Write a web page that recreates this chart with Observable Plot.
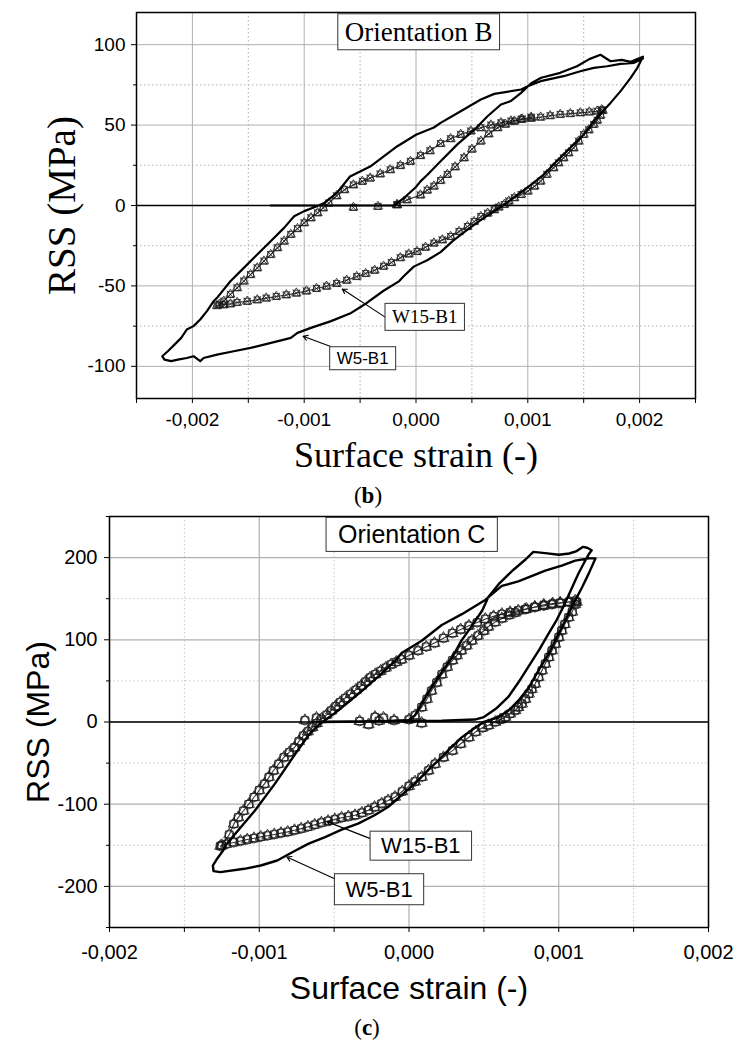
<!DOCTYPE html>
<html>
<head>
<meta charset="utf-8">
<script src="https://cdn.jsdelivr.net/npm/d3@7"></script>
<script src="https://cdn.jsdelivr.net/npm/@observablehq/plot@0.6"></script>
<style>
  body { margin: 0; background: #ffffff; }
  #root { position: relative; width: 736px; height: 1044px; overflow: hidden; background: #ffffff; }
  #top { position: absolute; left: 0; top: 0; }
  #bot { position: absolute; left: 0; top: 490px; }
  .cap { position: absolute; width: 736px; text-align: center; font-family: "Liberation Serif", "Times New Roman", serif; font-size: 23px; line-height: 24px; color: #000; }
</style>
</head>
<body>
<div id="root">
  <div id="top"></div>
  <div class="cap" style="left:0;top:484px;">(<b>b</b>)</div>
  <div id="bot"></div>
  <div class="cap" style="left:-1px;top:1016px;">(<b>c</b>)</div>
</div>
<script>
// ---------- DATA (strain in units of 1e-3, RSS in MPa) ----------
// Panel (b) Orientation B
const b_w5 = [
  [-1.30,0],[-0.87,0],[-0.20,0],[-0.11,4.5],[0.00,11.5],[0.04,15],[0.10,19],[0.22,27.5],[0.37,38],[0.52,47],[0.64,55.5],[0.76,62.8],[0.85,65],[0.94,70],[1.03,76],[1.12,79.4],[1.29,82.5],[1.44,86.6],[1.55,91],[1.65,93.7],[1.74,89.7],[1.84,90.5],[1.92,89.3],[2.03,92.5],
  [1.98,85.6],[1.92,79.4],[1.83,71.1],[1.74,63.8],[1.67,58.6],[1.59,52.4],[1.50,44.1],[1.41,37.9],[1.32,31.7],[1.23,25.5],[1.145,19.3],[1.03,13.0],[0.91,6.8],[0.79,0.6],[0.70,-3.6],[0.60,-8],[0.46,-15],[0.33,-22],[0.22,-29],[0.10,-34],[-0.02,-38],[-0.11,-44],[-0.15,-47],[-0.29,-53],[-0.44,-60.6],[-0.58,-66.8],[-0.76,-71.9],[-0.94,-76.1],[-1.06,-79.2],[-1.12,-82.3],[-1.18,-83.4],[-1.36,-86.5],[-1.48,-88.5],[-1.63,-90.6],[-1.78,-92.7],[-1.90,-94.8],[-1.93,-96.8],[-1.99,-93.7],[-2.05,-94.8],[-2.13,-95.8],[-2.19,-96.8],[-2.25,-95.8],[-2.27,-93.7],
  [-2.22,-90.6],[-2.16,-86.5],[-2.10,-82.3],[-2.05,-77.1],[-1.99,-75.0],[-1.93,-70.9],[-1.87,-65.7],[-1.81,-59.5],[-1.78,-57.4],[-1.66,-47.1],[-1.54,-38.8],[-1.42,-30.5],[-1.30,-22.2],[-1.18,-13.9],[-1.09,-6.7],[-1.00,-3.5],[-0.91,-1.1],[-0.82,1.6],[-0.71,7.7],[-0.59,18.0],[-0.41,24.2],[-0.17,36.7],[0.00,44],[0.16,48.5],[0.22,51.4],[0.40,58.6],[0.58,65.9],[0.70,69.4],[0.94,72.1],[1.00,74.2],[1.115,77.3],[1.32,80.4],[1.47,83.5],[1.59,85.6],[1.71,86.6],[1.83,88.1],[1.95,88.7],[2.03,91.4]
];
const b_w15_initial = [[-0.17,0.4],[-0.08,3.5],[0.04,6.5],[0.10,9.5],[0.16,12],[0.22,15.5],[0.28,19.3],[0.35,24],[0.43,29.6],[0.50,35],[0.58,40],[0.65,44.5],[0.73,48.3],[0.80,50.5],[0.88,52.4],[0.95,53.8],[1.03,54.9]];
const b_w15_upper = [[-1.76,-61.5],[-1.72,-59.5],[-1.66,-55.3],[-1.60,-51.2],[-1.54,-47],[-1.48,-43],[-1.42,-38.8],[-1.36,-34.6],[-1.30,-30.5],[-1.24,-26.3],[-1.18,-22.2],[-1.12,-18],[-1.06,-14.4],[-1.00,-10.8],[-0.94,-7.7],[-0.88,-4.6],[-0.83,-1.5],[-0.78,1.5],[-0.71,6],[-0.64,9.8],[-0.56,12.8],[-0.48,15],[-0.41,17],[-0.32,19.6],[-0.23,22.2],[-0.14,24.8],[-0.05,27.4],[0.04,31],[0.125,34],[0.22,38.5],[0.31,41.5],[0.40,44.2],[0.49,46.3],[0.58,48.3],[0.67,50],[0.76,51.4],[0.85,52.5],[0.94,53.5],[1.03,54.2],[1.115,54.9],[1.20,55.8],[1.29,56.6],[1.38,57.1],[1.47,57.6],[1.55,58.1],[1.62,58.6],[1.66,59.5]];
const b_w15_lower = [[1.67,59],[1.65,56],[1.62,53],[1.59,50.4],[1.545,47],[1.50,44.1],[1.455,40],[1.41,35.8],[1.365,32.7],[1.32,29.6],[1.275,26.5],[1.23,23.4],[1.17,19.3],[1.115,15.1],[1.06,12],[1.00,8.9],[0.94,6.8],[0.88,4.8],[0.83,2.7],[0.79,0.6],[0.74,-1],[0.70,-2.7],[0.64,-4.8],[0.58,-6.9],[0.52,-10],[0.46,-13.1],[0.385,-16.2],[0.31,-19.3],[0.235,-21.4],[0.16,-23.4],[0.085,-26],[0.01,-28.6],[-0.065,-30.2],[-0.14,-32.5],[-0.22,-35.5],[-0.29,-37.8],[-0.37,-40.3],[-0.45,-42.3],[-0.53,-44.2],[-0.62,-46.5],[-0.71,-48.5],[-0.80,-50.2],[-0.89,-51.6],[-0.98,-53.2],[-1.07,-54.5],[-1.16,-55.6],[-1.25,-56.6],[-1.34,-57.6],[-1.42,-58.7],[-1.51,-59.6],[-1.60,-60.3],[-1.66,-61.2],[-1.72,-61.8],[-1.78,-62.3]];
const b_w15_zero = [[-0.56,-1.2],[-0.34,-0.6],[-0.17,0.5]];
const b_x_major = [-2, -1, 0, 1, 2];
const b_x_minor = [-2.5, -1.5, -0.5, 0.5, 1.5, 2.5];
const b_y_major = [-100, -50, 0, 50, 100];
const b_y_minor = [-75, -25, 25, 75];
const b_label_text = ["Orientation B", "W15-B1", "W5-B1"];
const b_label_x = [0.024, 0.078, -0.477];
const b_label_y = [107.8, -69.5, -95];
const b_arrow_x1 = [-0.276, -0.763];
const b_arrow_y1 = [-69.4, -87.7];
const b_arrow_x2 = [-0.66, -1.01];
const b_arrow_y2 = [-51.9, -81.3];

// Panel (c) Orientation C
const c_w5 = [
  [-0.58,0],[-0.33,0.5],[0.00,2],[0.04,8],[0.085,22],[0.15,42],[0.22,61],[0.29,79],[0.35,99],[0.42,117],[0.49,136],[0.53,152],[0.60,168],[0.69,184],[0.78,198],[0.83,207],[0.91,205.5],[1.00,203.5],[1.07,205],[1.12,208],[1.16,213],[1.19,212],[1.22,209],
  [1.20,204],[1.17,194],[1.13,180],[1.08,160],[1.03,140],[0.98,122],[0.93,107],[0.87,88],[0.80,68],[0.73,48],[0.665,31],[0.58,16],[0.50,6],[0.44,3],[0.22,1.5],
  [-0.58,0.5],[-0.665,-14.6],[-0.76,-39],[-0.895,-75],[-1.03,-108],[-1.16,-136],[-1.225,-150],[-1.24,-156],[-1.28,-166],[-1.31,-174.6],[-1.305,-181.4],[-1.26,-182.7],
  [-1.10,-178.6],[-0.99,-174.6],[-0.88,-168.5],[-0.77,-157.5],[-0.67,-148],[-0.56,-140],[-0.45,-131],[-0.34,-123.6],[-0.23,-113.5],[-0.14,-103.4],[-0.05,-89],[0.04,-75],[0.13,-58],[0.20,-46],[0.27,-33],[0.35,-19],[0.44,-7],[0.50,0],
  [0.60,6],[0.665,14],[0.73,26],[0.80,42],[0.866,63],[0.933,83],[0.977,99],[1.02,115],[1.066,131.5],[1.11,148],[1.156,164],[1.20,180.5],[1.245,199],
  [1.20,199],[1.11,196.3],[1.02,190.2],[0.91,184.2],[0.73,171],[0.62,165.7],[0.509,148.5],[0.353,131.2],[0.219,118],[0.085,98.8],[-0.049,84],[-0.10,73],[-0.20,56],[-0.30,40],[-0.40,25],[-0.50,10],[-0.58,0]
];
const c_w15_initial = [[-0.33,1],[-0.20,1.5],[-0.10,2],[0.00,3],[0.04,8],[0.085,18],[0.12,28],[0.15,38],[0.185,48],[0.22,58],[0.255,67],[0.29,75],[0.32,81],[0.35,87],[0.385,93],[0.42,99],[0.46,105],[0.50,111],[0.53,116],[0.575,121.5],[0.62,126],[0.665,130],[0.71,133],[0.775,137],[0.84,140],[0.90,142.5],[0.96,144],[1.01,145],[1.07,146]];
const c_w15_upper = [[-1.25,-150],[-1.20,-137],[-1.17,-124],[-1.14,-116],[-1.105,-108],[-1.07,-100],[-1.035,-91.5],[-1.0,-83],[-0.965,-75.3],[-0.935,-67],[-0.905,-59],[-0.87,-51],[-0.835,-43],[-0.80,-37],[-0.765,-31],[-0.735,-23.5],[-0.705,-16.6],[-0.675,-11.5],[-0.645,-6.5],[-0.615,-1.5],[-0.585,3.6],[-0.55,8.7],[-0.52,13.8],[-0.49,19],[-0.46,24],[-0.425,29],[-0.39,34],[-0.355,39],[-0.32,44],[-0.29,49],[-0.26,54],[-0.225,58],[-0.19,62],[-0.155,66],[-0.12,70],[-0.085,73],[-0.05,76],[0.00,81],[0.06,86.8],[0.115,91.5],[0.17,96],[0.23,102],[0.29,108],[0.345,112.5],[0.40,117],[0.455,121],[0.51,125.3],[0.565,128.5],[0.62,131.3],[0.675,133.5],[0.73,135.5],[0.785,137.5],[0.84,139.5],[0.90,141.3],[0.955,143],[1.01,144.5],[1.066,146],[1.11,147.5]];
const c_w15_lower = [[1.12,146],[1.11,143],[1.09,134],[1.066,127.4],[1.04,119],[1.02,111.3],[1.00,103],[0.977,95],[0.955,87],[0.933,78.9],[0.91,70.8],[0.888,62.7],[0.865,54.6],[0.843,46.5],[0.82,40],[0.80,34.3],[0.777,28],[0.754,22.2],[0.73,18],[0.71,14.1],[0.675,10],[0.643,6],[0.61,3],[0.576,0],[0.53,-4],[0.49,-7],[0.445,-12],[0.40,-18.6],[0.345,-26.5],[0.29,-34.8],[0.23,-43],[0.174,-51],[0.13,-59],[0.085,-66.9],[0.04,-72.5],[0.00,-78],[-0.045,-84.5],[-0.093,-91.2],[-0.14,-95.5],[-0.183,-99.3],[-0.23,-103.5],[-0.272,-107.4],[-0.315,-110.5],[-0.361,-113.5],[-0.405,-115],[-0.45,-116.5],[-0.495,-118.5],[-0.54,-120.5],[-0.585,-122.5],[-0.63,-125],[-0.675,-127.5],[-0.72,-129.7],[-0.765,-131.7],[-0.81,-133.7],[-0.855,-135.2],[-0.90,-136.8],[-0.945,-138.3],[-0.99,-139.8],[-1.035,-141.5],[-1.08,-143],[-1.125,-144.8],[-1.17,-146.5],[-1.22,-148.5],[-1.26,-151]];
const c_w15_zero = [[-0.695,2],[-0.618,5],[-0.27,-3],[-0.227,6],[-0.17,5],[0.085,-1.3]];
const c_x_major = [-2, -1, 0, 1, 2];
const c_x_minor = [-1.5, -0.5, 0.5, 1.5];
const c_y_major = [-200, -100, 0, 100, 200];
const c_y_minor = [-250, -150, -50, 50, 150, 250];
const c_label_text = ["Orientation C", "W15-B1", "W5-B1"];
const c_label_x = [0.018, 0.079, -0.2];
const c_label_y = [227, -151, -204];
const c_arrow_x1 = [-0.224, -0.5];
const c_arrow_y1 = [-144.3, -190.4];
const c_arrow_x2 = [-0.548, -0.816];
const c_arrow_y2 = [-121.2, -164.2];

// ---------- helpers ----------
const SANS = "Liberation Sans, Arial, Helvetica, sans-serif";
const SERIF = "Liberation Serif, 'Times New Roman', serif";
const fmtStrain = d => (d < 0 ? "-" : "") + "0,00" + Math.abs(d);
const rows = (pts, series) => pts.map(([s, v]) => ({strain: s, rss: v, series}));
const labelRows = (t, xs, ys) => t.map((text, i) => ({text, x: xs[i], y: ys[i]}));
const arrowRows = (x1, y1, x2, y2) => x1.map((_, i) => ({x1: x1[i], y1: y1[i], x2: x2[i], y2: y2[i]}));
const GRID = "#b0b0b0";

function boxLabels(svg, pads) {
  svg.querySelectorAll("text").forEach(t => {
    const p = pads[t.textContent];
    if (!p) return;
    const bb = t.getBBox();
    const rect = document.createElementNS("http://www.w3.org/2000/svg", "rect");
    rect.setAttribute("x", bb.x - p[0]);
    rect.setAttribute("y", bb.y - p[1]);
    rect.setAttribute("width", bb.width + 2 * p[0]);
    rect.setAttribute("height", bb.height + 2 * p[1]);
    rect.setAttribute("fill", "#ffffff");
    rect.setAttribute("stroke", "#333333");
    rect.setAttribute("stroke-width", "1");
    const tr = t.getAttribute("transform");
    if (tr) rect.setAttribute("transform", tr);
    t.parentNode.insertBefore(rect, t);
  });
}

// ---------- Panel (b) ----------
const bW15 = [...rows(b_w15_initial, "init"), ...rows(b_w15_upper, "up"), ...rows(b_w15_lower, "down")];
const bW15pts = [...bW15, ...rows(b_w15_zero, "zero")];
const bLabels = labelRows(b_label_text, b_label_x, b_label_y);

const topPlot = Plot.plot({
  width: 736, height: 480,
  marginLeft: 136, marginRight: 41, marginTop: 12, marginBottom: 82,
  style: {fontFamily: SANS, fontSize: "19px", color: "#000", background: "transparent", overflow: "visible"},
  x: {domain: [-2.5, 2.5], label: null},
  y: {domain: [-120, 120], label: null},
  marks: [
    Plot.gridX(b_x_minor, {stroke: GRID, strokeOpacity: 1, strokeDasharray: "1.5,2.5"}),
    Plot.gridY(b_y_minor, {stroke: GRID, strokeOpacity: 1, strokeDasharray: "1.5,2.5"}),
    Plot.gridX(b_x_major, {stroke: GRID, strokeOpacity: 1, strokeWidth: 1}),
    Plot.gridY(b_y_major, {stroke: GRID, strokeOpacity: 1, strokeWidth: 1}),
    Plot.line(bW15, {x: "strain", y: "rss", z: "series", stroke: "#333", strokeWidth: 1.1}),
    ...["square", "times", "triangle"].map(s => Plot.dot(bW15pts, {x: "strain", y: "rss", symbol: s, r: 3.4, stroke: "#1a1a1a", strokeWidth: 0.8, fill: "none"})),
    Plot.line(rows(b_w5, "w5"), {x: "strain", y: "rss", stroke: "#000", strokeWidth: 2.2, strokeLinejoin: "round"}),
    Plot.ruleY([0], {stroke: "#000", strokeWidth: 1.6}),
    Plot.frame({stroke: "#000", strokeWidth: 1.5}),
    Plot.axisX(b_x_major, {tickSize: 5, tickPadding: 9, tickFormat: fmtStrain, label: null}),
    Plot.axisX(b_x_minor, {tickSize: 5, tickFormat: () => "", label: null}),
    Plot.axisY(b_y_major, {tickSize: 5, tickPadding: 6, tickFormat: d => String(d), label: null}),
    Plot.axisY(b_y_minor, {tickSize: 3, tickFormat: () => "", label: null}),
    Plot.arrow(arrowRows(b_arrow_x1, b_arrow_y1, b_arrow_x2, b_arrow_y2), {x1: "x1", y1: "y1", x2: "x2", y2: "y2", stroke: "#000", strokeWidth: 1.1, headLength: 7}),
    Plot.text(bLabels.filter(d => d.text === "Orientation B"), {x: "x", y: "y", text: "text", fontFamily: SERIF, fontSize: 27}),
    Plot.text(bLabels.filter(d => d.text === "W15-B1"), {x: "x", y: "y", text: "text", fontFamily: SERIF, fontSize: 19}),
    Plot.text(bLabels.filter(d => d.text === "W5-B1"), {x: "x", y: "y", text: "text", fontFamily: SANS, fontSize: 17}),
    Plot.text(["RSS (MPa)"], {frameAnchor: "left", dx: -74, rotate: -90, textAnchor: "middle", lineAnchor: "middle", fontFamily: SERIF, fontSize: 39}),
    Plot.text(["Surface strain (-)"], {frameAnchor: "bottom", dy: 57, textAnchor: "middle", lineAnchor: "middle", fontFamily: SERIF, fontSize: 36})
  ]
});
document.getElementById("top").appendChild(topPlot);
boxLabels(topPlot, {"Orientation B": [7, 3], "W15-B1": [7, 3], "W5-B1": [7, 2]});

// ---------- Panel (c) ----------
const cW15 = [...rows(c_w15_initial, "init"), ...rows(c_w15_upper, "up"), ...rows(c_w15_lower, "down")];
const cW15pts = [...cW15, ...rows(c_w15_zero, "zero")];
const cLabels = labelRows(c_label_text, c_label_x, c_label_y);

const botPlot = Plot.plot({
  width: 736, height: 520,
  marginLeft: 109, marginRight: 28, marginTop: 26, marginBottom: 83,
  style: {fontFamily: SANS, fontSize: "20px", color: "#000", background: "transparent", overflow: "visible"},
  x: {domain: [-2, 2], label: null},
  y: {domain: [-250, 250], label: null},
  marks: [
    Plot.gridX(c_x_minor, {stroke: "#c4c4c4", strokeOpacity: 1, strokeDasharray: "1.5,2.5"}),
    Plot.gridY(c_y_minor, {stroke: "#c4c4c4", strokeOpacity: 1, strokeDasharray: "1.5,2.5"}),
    Plot.gridX(c_x_major, {stroke: GRID, strokeOpacity: 1, strokeWidth: 1.2}),
    Plot.gridY(c_y_major, {stroke: GRID, strokeOpacity: 1, strokeWidth: 1.2}),
    Plot.line(cW15, {x: "strain", y: "rss", z: "series", stroke: "#333", strokeWidth: 1.1}),
    ...["square", "triangle", "hexagon"].map(s => Plot.dot(cW15pts, {x: "strain", y: "rss", symbol: s, r: 4.2, stroke: "#1a1a1a", strokeWidth: 0.8, fill: "none"})),
    Plot.line(rows(c_w5, "w5"), {x: "strain", y: "rss", stroke: "#000", strokeWidth: 2.4, strokeLinejoin: "round"}),
    Plot.ruleY([0], {stroke: "#000", strokeWidth: 1.6}),
    Plot.frame({stroke: "#000", strokeWidth: 1.5}),
    Plot.axisX(c_x_major, {tickSize: 5, tickPadding: 12, tickFormat: fmtStrain, label: null}),
    Plot.axisX(c_x_minor, {tickSize: 5, tickFormat: () => "", label: null}),
    Plot.axisY(c_y_major, {tickSize: 5, tickPadding: 7, tickFormat: d => String(d), label: null}),
    Plot.axisY(c_y_minor, {tickSize: 3, tickFormat: () => "", label: null}),
    Plot.arrow(arrowRows(c_arrow_x1, c_arrow_y1, c_arrow_x2, c_arrow_y2), {x1: "x1", y1: "y1", x2: "x2", y2: "y2", stroke: "#000", strokeWidth: 1.1, headLength: 7}),
    Plot.text(cLabels.filter(d => d.text === "Orientation C"), {x: "x", y: "y", text: "text", fontFamily: SANS, fontSize: 25}),
    Plot.text(cLabels.filter(d => d.text !== "Orientation C"), {x: "x", y: "y", text: "text", fontFamily: SANS, fontSize: 22}),
    Plot.text(["RSS (MPa)"], {frameAnchor: "left", dx: -71, rotate: -90, textAnchor: "middle", lineAnchor: "middle", fontFamily: SANS, fontSize: 32}),
    Plot.text(["Surface strain (-)"], {frameAnchor: "bottom", dy: 61, textAnchor: "middle", lineAnchor: "middle", fontFamily: SANS, fontSize: 32})
  ]
});
document.getElementById("bot").appendChild(botPlot);
boxLabels(botPlot, {"Orientation C": [12, 3], "W15-B1": [11, 2], "W5-B1": [11, 3]});
</script>
</body>
</html>
